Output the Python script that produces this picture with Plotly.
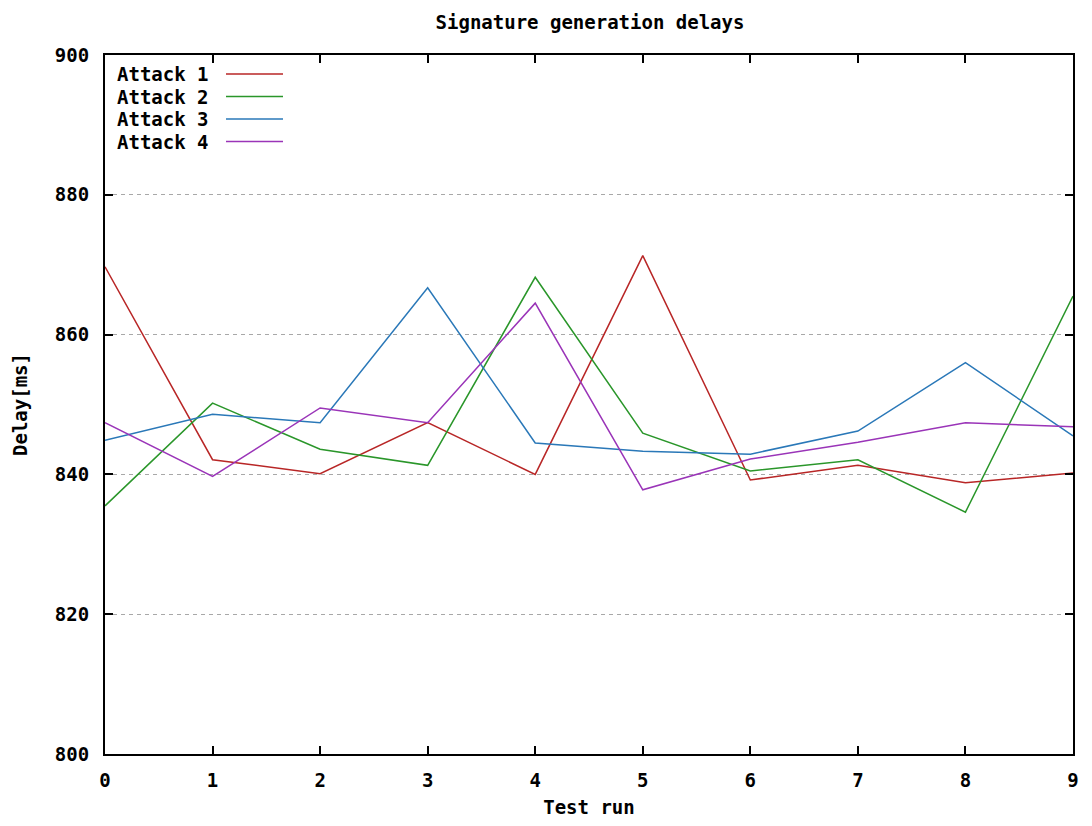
import plotly.graph_objects as go

runs = [0, 1, 2, 3, 4, 5, 6, 7, 8, 9]
attack1 = [869.7, 842.1, 840.1, 847.4, 840.0, 871.3, 839.2, 841.3, 838.8, 840.2]
attack2 = [835.5, 850.2, 843.6, 841.3, 868.2, 845.9, 840.5, 842.1, 834.6, 865.5]
attack3 = [844.9, 848.6, 847.4, 866.7, 844.5, 843.3, 842.9, 846.2, 856.0, 845.5]
attack4 = [847.4, 839.7, 849.5, 847.4, 864.5, 837.8, 842.2, 844.6, 847.4, 846.8]
names = ["Attack 1", "Attack 2", "Attack 3", "Attack 4"]
colors = ["#b82626", "#2a962a", "#2a78b8", "#9a34b8"]
series = [attack1, attack2, attack3, attack4]

FONT = "DejaVu Sans Mono"

# figure sized to fit inside the page body (8px default body margin)
W, H = 1076, 810
L, R, T, B = 97, 11, 47, 64
pw, ph = W - L - R, H - T - B
OFF = 8  # body margin offset on screen


def px(sx):
    return (sx - OFF - L) / pw


def py(sy):
    return 1 - (sy - OFF - T) / ph


fig = go.Figure()
for name, ys, c in zip(names, series, colors):
    fig.add_trace(go.Scatter(x=runs, y=ys, mode="lines", name=name,
                             line=dict(color=c, width=1.5), showlegend=False))

# custom legend (text left, sample line right, like gnuplot)
row_h = 22.5
for i, (name, c) in enumerate(zip(names, colors)):
    sy = 74 + i * row_h
    fig.add_annotation(x=px(115), y=py(sy), xref="paper", yref="paper", text=name,
                       showarrow=False, xanchor="left", yanchor="middle",
                       font=dict(family=FONT, size=19, color="black", weight="bold"))
    fig.add_shape(type="line", xref="paper", yref="paper",
                  x0=px(226), x1=px(283), y0=py(sy), y1=py(sy),
                  line=dict(color=c, width=1.5))

axis_font = dict(family=FONT, size=19, color="black", weight="bold")
fig.update_layout(
    width=W, height=H,
    margin=dict(l=L, r=R, t=T, b=B, autoexpand=False),
    paper_bgcolor="white", plot_bgcolor="white",
    title=dict(text="Signature generation delays", x=(590 - OFF) / W, xanchor="center",
               y=1 - (22 - OFF) / H, yanchor="middle",
               font=dict(family=FONT, size=19, color="black", weight="bold")),
    xaxis=dict(range=[0, 9], tickvals=runs, ticktext=[str(r) for r in runs],
               automargin=False,
               showgrid=False, zeroline=False, showline=True, linecolor="black",
               linewidth=2, mirror="ticks", ticks="inside", ticklen=8,
               tickcolor="black", tickwidth=2, tickfont=axis_font,
               ticklabelstandoff=8,
               title=dict(text="Test run", font=axis_font, standoff=15)),
    yaxis=dict(range=[800, 900], tickvals=[800, 820, 840, 860, 880, 900],
               automargin=False,
               showgrid=True, gridcolor="#a8a8a8", griddash="4px,4px", gridwidth=1,
               zeroline=False, showline=True, linecolor="black",
               linewidth=2, mirror="ticks", ticks="inside", ticklen=8,
               tickcolor="black", tickwidth=2, tickfont=axis_font,
               ticklabelstandoff=10,
               title=dict(text="Delay[ms]", font=axis_font, standoff=22)),
)

fig.write_html("out.html")
